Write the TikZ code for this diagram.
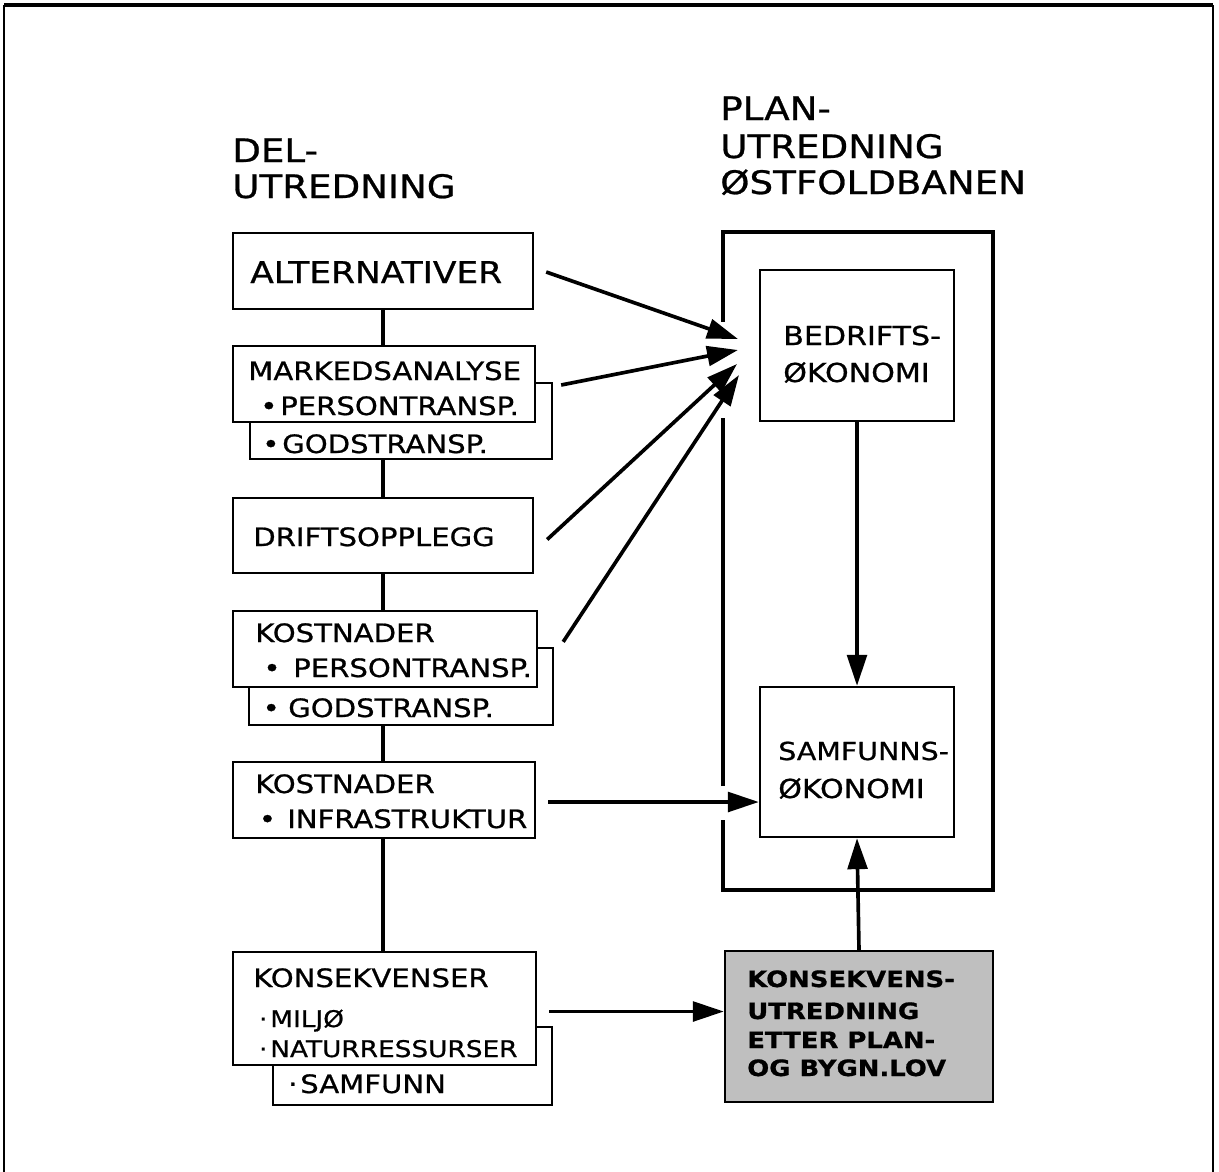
\documentclass[tikz,border=0pt]{standalone}
\usepackage{fontspec}
\setmainfont{DejaVu Sans}
\newfontfamily\hand[FakeStretch=1.15,FakeBold=0.8]{DejaVu Sans}
\usetikzlibrary{arrows.meta,calc,fit}
\begin{document}
\begin{tikzpicture}[x=0.025cm,y=-0.025cm,
  box/.style={draw, line width=1.7pt, fill=white, inner sep=0pt},
  lbl/.style={anchor=base west, inner sep=0pt, font=\hand\fontsize{18}{22}\selectfont},
  slbl/.style={anchor=base west, inner sep=0pt, font=\hand\fontsize{16.3}{20}\selectfont},
  biglbl/.style={anchor=base west, inner sep=0pt, font=\hand\fontsize{21.3}{25}\selectfont},
  rlbl/.style={anchor=base west, inner sep=0pt, font=\hand\fontsize{18.6}{23}\selectfont},
  klbl/.style={anchor=base west, inner sep=0pt, font=\hand\bfseries\fontsize{16}{20}\selectfont},
  ttl/.style={anchor=base west, inner sep=0pt, font=\hand\fontsize{23}{28}\selectfont},
  arr/.style={line width=2.6pt, -{Triangle[length=22pt,width=14pt]}},
  spine/.style={line width=2.6pt},
  outer/.style={line width=3pt}
]
\useasboundingbox (0,0) rectangle (1219,1172);
% page frame (open at bottom)
\draw[line width=1.4pt] (4,1180) -- (4,5);
\draw[line width=2.4pt] (4,5) -- (1213,5);
\draw[line width=1.4pt] (1213,5) -- (1213,1180);

% titles
\node[ttl] (t1a) at (232,162) {DEL-};
\node[ttl] (t1b) at (232,198) {UTREDNING};
\node[ttl] (t2a) at (720,120) {PLAN-};
\node[ttl] (t2b) at (720,158) {UTREDNING};
\node[ttl] (t2c) at (720,194) {ØSTFOLDBANEN};

% left column boxes
\node[box, fit={(250,383)(552,459)}] (markb) {};
\node[box, fit={(233,233)(533,309)}] (alt) {};
\node[box, fit={(233,346)(535,422)}] (mark) {};
\node[box, fit={(233,498)(533,573)}] (drift) {};
\node[box, fit={(249,648)(553,725)}] (kostb) {};
\node[box, fit={(233,611)(537,687)}] (kost) {};
\node[box, fit={(233,762)(535,838)}] (infra) {};
\node[box, fit={(273,1027)(552,1105)}] (konsb) {};
\node[box, fit={(233,952)(536,1065)}] (kons) {};

% spine
\draw[spine] (alt.south) -- (alt.south |- mark.north);
\draw[spine] (alt.south |- markb.south) -- (alt.south |- drift.north);
\draw[spine] (alt.south |- drift.south) -- (alt.south |- kost.north);
\draw[spine] (alt.south |- kostb.south) -- (alt.south |- infra.north);
\draw[spine] (alt.south |- infra.south) -- (alt.south |- kons.north);

% left texts
\node[biglbl] (altT) at (250,283) {ALTERNATIVER};
\node[lbl] (markT) at (248,380) {MARKEDSANALYSE};
\node[lbl] (markP) at (280,415) {\llap{•\hspace{2pt}}PERSONTRANSP.};
\node[lbl] (markG) at (282,453) {\llap{•\hspace{2pt}}GODSTRANSP.};
\node[lbl] (driftT) at (253,546) {DRIFTSOPPLEGG};
\node[lbl] (kostT) at (255,642) {KOSTNADER};
\node[lbl] (kostP) at (293,677) {\llap{•\hspace{9pt}}PERSONTRANSP.};
\node[lbl] (kostG) at (288,717) {\llap{•\hspace{6pt}}GODSTRANSP.};
\node[lbl] (infraT) at (255,793) {KOSTNADER};
\node[lbl] (infraI) at (287,828) {\llap{•\hspace{8pt}}INFRASTRUKTUR};
\node[lbl] (konsT) at (253,987) {KONSEKVENSER};
\node[slbl] (konsM) at (270,1027) {\llap{·\hspace{2pt}}MILJØ};
\node[slbl] (konsN) at (270,1057) {\llap{·\hspace{2pt}}NATURRESSURSER};
\node[lbl] (konsS) at (300,1093) {\llap{·\hspace{2pt}}SAMFUNN};

% right side
\draw[outer] (723,322) -- (723,232) -- (993,232) -- (993,890) -- (847,890);
\draw[outer] (870,890) -- (723,890) -- (723,820);
\draw[outer] (723,786) -- (723,418);

\node[box, fit={(760,270)(954,421)}] (bed) {};
\node[box, fit={(760,687)(954,837)}] (samf) {};
\node[box, fill=gray!50, fit={(725,951)(993,1102)}] (kus) {};

\node[rlbl] (bedA) at (783,345) {BEDRIFTS-};
\node[rlbl] (bedB) at (783,382) {ØKONOMI};
\node[rlbl, font=\hand\fontsize{17.6}{22}\selectfont] (samfA) at (778,760) {SAMFUNNS-};
\node[rlbl] (samfB) at (778,798) {ØKONOMI};
\node[klbl] (kusA) at (747,987) {KONSEKVENS-};
\node[klbl] (kusB) at (747,1019) {UTREDNING};
\node[klbl] (kusC) at (747,1048) {ETTER PLAN-};
\node[klbl] (kusD) at (747,1076) {OG BYGN.LOV};

% arrows
\coordinate (tip1) at (738,339);
\coordinate (tip2) at (738,350);
\coordinate (tip3) at (737,364);
\coordinate (tip4) at (739,375);
\coordinate (s5) at ($(infra.east)+(12,2)$);
\coordinate (s6) at ($(kons.east)+(12,3)$);
\draw[arr] ($(alt.east)+(12,1)$) -- (tip1);
\draw[arr] ($(markb.east)+(8,-36)$) -- (tip2);
\draw[arr] ($(drift.east)+(13,4)$) -- (tip3);
\draw[arr] ($(kostb.north east)+(9,-5)$) -- (tip4);
\draw[arr] (s5) -- (s5 -| samf.west);
\draw[arr] (s6) -- (s6 -| kus.west);
\draw[arr] (bed.south) -- (samf.north);
\draw[arr] (kus.north) -- (samf.south);
\end{tikzpicture}
\end{document}
